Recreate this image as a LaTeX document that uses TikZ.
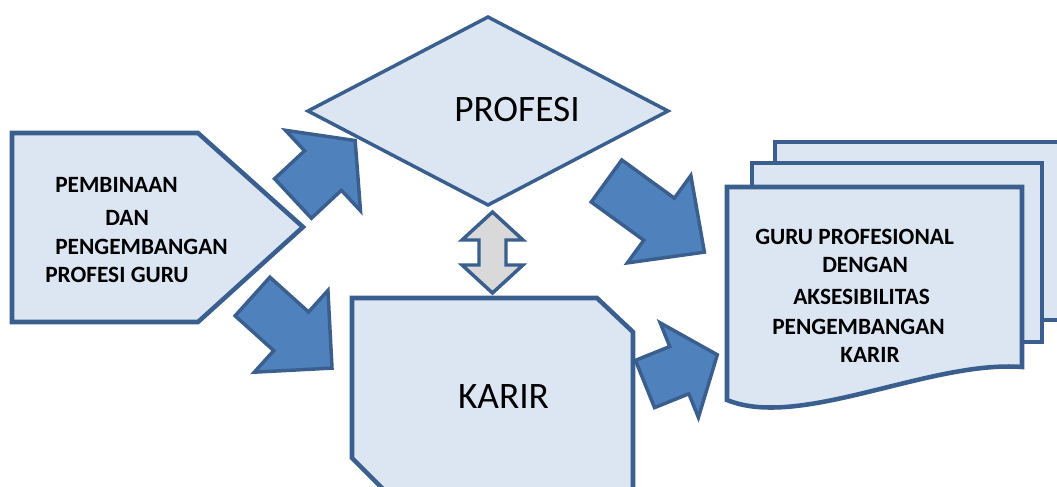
\documentclass[tikz,border=0pt]{standalone}
\usepackage{fontspec}
\setmainfont{Carlito}
\definecolor{boxline}{HTML}{3A5F8E}
\definecolor{boxfill}{HTML}{DCE6F2}
\definecolor{arrowfill}{HTML}{4F81BD}
\definecolor{dblfill}{HTML}{D9D9D9}

% block arrow: #1 tail centre, #2 direction angle, #3 shaft length,
% #4 head length, #5 shaft half width, #6 head half width
\newcommand{\blockarrow}[6]{%
  \begin{scope}[shift={(#1)}, rotate=#2]
    \draw[barrow] (0,#5) -- (#3,#5) -- (#3,#6) -- (#3+#4,0)
      -- (#3,-#6) -- (#3,-#5) -- (0,-#5) -- cycle;
  \end{scope}}

\begin{document}
\begin{tikzpicture}[x=0.75pt, y=-0.75pt,
  shapebox/.style={draw=boxline, fill=boxfill, line width=3.4pt, line join=miter},
  barrow/.style={draw=boxline, fill=arrowfill, line width=2.6pt, line join=miter},
  small/.style={font=\fontsize{17.5}{21}\selectfont\bfseries, inner sep=0pt, anchor=west},
  big/.style={font=\fontsize{28}{32}\selectfont, inner sep=0pt}]

\useasboundingbox (0,0) rectangle (1057,486);
\clip (0,0) rectangle (1057,486);

% left pentagon
\draw[shapebox] (12,133) -- (198,133) -- (303,227) -- (198,322) -- (12,322) -- cycle;
\node[small] (p1) at (55,185) {PEMBINAAN};
\node[small] (p2) at (105,218) {DAN};
\node[small] (p3) at (55,247) {PENGEMBANGAN};
\node[small] (p4) at (45,275) {PROFESI GURU};

% diamond
\draw[shapebox, line width=2.6pt] (308,111) -- (488,17) -- (668,111) -- (488,205) -- cycle;
\node[big] (profesi) at (517,110) {PROFESI};

% snipped box
\draw[shapebox] (352,298) -- (597,298) -- (633,332) -- (633,494)
  -- (388,494) -- (352,458) -- cycle;
\node[big] (karir) at (503.5,397) {KARIR};

% stacked documents
\draw[shapebox] (775,142) rectangle (1075,320);
\draw[shapebox] (752,163) rectangle (1042,342);
\draw[shapebox] (727,187) -- (1022,187) -- (1022,367)
  .. controls (930,360) and (800,430) .. (727,400) -- cycle;
\node[small] (d1) at (755,237) {GURU PROFESIONAL};
\node[small] (d2) at (822,265) {DENGAN};
\node[small] (d3) at (793,297) {AKSESIBILITAS};
\node[small] (d4) at (772,327) {PENGEMBANGAN};
\node[small] (d5) at (840,355) {KARIR};

% two-headed vertical arrow
\draw[draw=boxline, fill=dblfill, line width=2.6pt, line join=miter]
  (492.5,212) -- (523,240) -- (506,240) -- (506,265) -- (523,265)
  -- (492.5,293) -- (462,265) -- (479,265) -- (479,240) -- (462,240) -- cycle;

% block arrows
\blockarrow{293,198.5}{43}{41}{44}{27}{55}
\blockarrow{252.5,296.5}{-42}{52}{55}{26}{55}
\blockarrow{606.5,181}{-36}{65}{56}{26}{54}
\blockarrow{645,384}{22}{37}{41}{25.5}{51}

\end{tikzpicture}
\end{document}
